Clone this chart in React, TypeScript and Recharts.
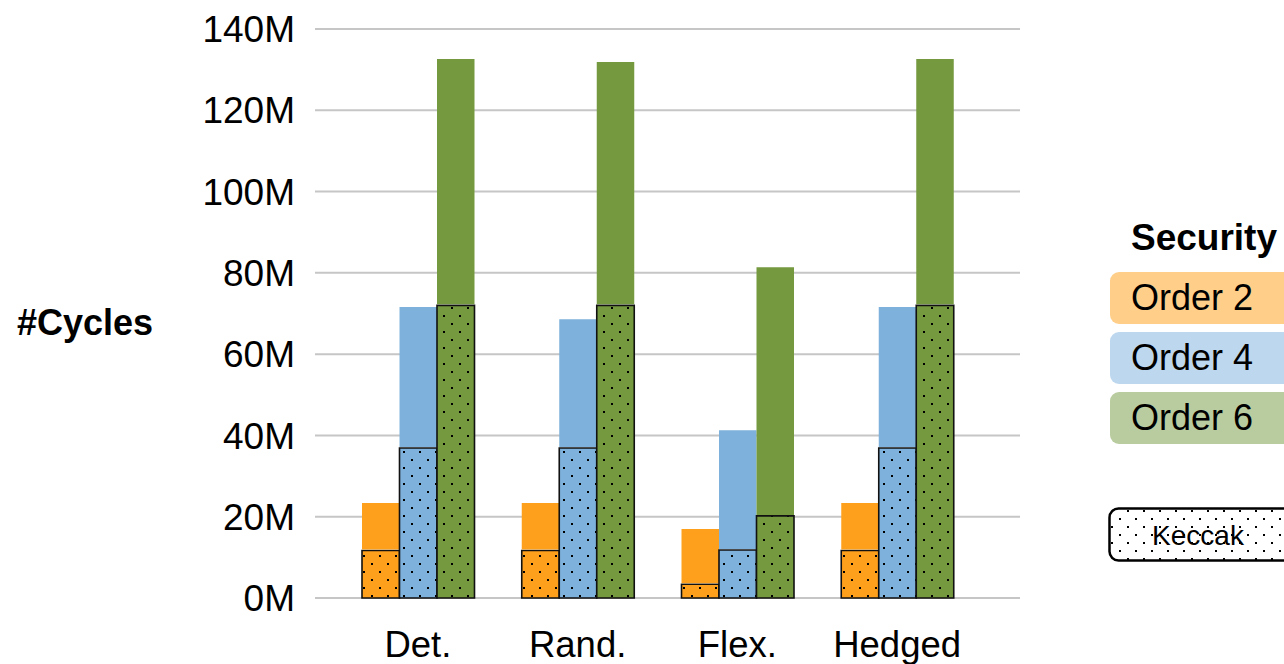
import { Bar, BarChart, CartesianGrid, Rectangle, XAxis, YAxis } from 'recharts';

// cycle counts in millions
const CATEGORIES = ['Det.', 'Rand.', 'Flex.', 'Hedged'];
const ORDER2_TOTAL = [23.4, 23.4, 17.0, 23.4];
const ORDER2_KECCAK = [11.7, 11.7, 3.4, 11.7];
const ORDER4_TOTAL = [71.6, 68.6, 41.3, 71.6];
const ORDER4_KECCAK = [36.9, 36.9, 11.8, 36.9];
const ORDER6_TOTAL = [132.6, 131.9, 81.4, 132.6];
const ORDER6_KECCAK = [72.0, 72.0, 20.2, 72.0];
const Y_TICKS = [0, 20, 40, 60, 80, 100, 120, 140];
const ORDER_NAMES = ['Order 2', 'Order 4', 'Order 6'];

const FONT = "'Liberation Sans', Arial, sans-serif";

const ORDERS = [
  { key: 'o2', name: ORDER_NAMES[0], total: ORDER2_TOTAL, keccak: ORDER2_KECCAK, color: '#FFA01C', light: '#FFCF8A' },
  { key: 'o4', name: ORDER_NAMES[1], total: ORDER4_TOTAL, keccak: ORDER4_KECCAK, color: '#7EB1DB', light: '#BDD7EE' },
  { key: 'o6', name: ORDER_NAMES[2], total: ORDER6_TOTAL, keccak: ORDER6_KECCAK, color: '#75993E', light: '#B9CC9F' },
];

const data = CATEGORIES.map((name, i) => {
  const row: Record<string, string | number> = { name };
  ORDERS.forEach((o) => {
    row[`${o.key}Keccak`] = o.keccak[i];
    row[`${o.key}Rest`] = +(o.total[i] - o.keccak[i]).toFixed(2);
  });
  return row;
});

// dotted fill used for the Keccak share of every bar
function DotPattern({ id, color }: { id: string; color: string }) {
  return (
    <pattern id={id} patternUnits='userSpaceOnUse' width={16} height={16}>
      <rect width={16} height={16} fill={color} />
      <rect x={3} y={3} width={2} height={2} fill='#000' />
      <rect x={11} y={11} width={2} height={2} fill='#000' />
    </pattern>
  );
}

// upper part stops 1px short so the Keccak outline stays visible
const RestShape = (props: any) => (
  <Rectangle {...props} height={Math.max(0, props.height - 1)} />
);

export default function App() {
  return (
    <div
      style={{
        position: 'absolute',
        left: 0,
        top: 0,
        width: 1284,
        height: 664,
        overflow: 'hidden',
        background: '#fff',
        fontFamily: FONT,
      }}>
      <BarChart
        width={1100}
        height={664}
        data={data}
        margin={{ top: 29, right: 80, bottom: 6, left: 0 }}
        barGap={0}
        barSize={37.5}>
        <defs>
          {ORDERS.map((o) => (
            <DotPattern key={o.key} id={`dots-${o.key}`} color={o.color} />
          ))}
        </defs>
        <CartesianGrid vertical={false} stroke='#C6C6C6' strokeWidth={2} />
        <XAxis
          dataKey='name'
          axisLine={false}
          tickLine={false}
          tickMargin={27}
          height={60}
          padding={{ left: 23, right: 43 }}
          tick={{ fontSize: 36.5, fill: '#000', fontFamily: FONT }}
        />
        <YAxis
          width={315}
          domain={[0, 140]}
          ticks={Y_TICKS}
          axisLine={false}
          tickLine={false}
          tickMargin={14}
          tickFormatter={(v) => `${v}M`}
          tick={{ fontSize: 37, fill: '#000', fontFamily: FONT }}
          label={{
            value: '#Cycles',
            position: 'insideLeft',
            offset: 17,
            dy: 9,
            fontSize: 36,
            fontWeight: 'bold',
            fill: '#000',
            fontFamily: FONT,
          }}
        />
        {ORDERS.flatMap((o) => [
          <Bar
            key={`${o.key}Keccak`}
            dataKey={`${o.key}Keccak`}
            stackId={o.key}
            fill={`url(#dots-${o.key})`}
            stroke='#111'
            strokeWidth={1.6}
            isAnimationActive={false}
          />,
          <Bar
            key={`${o.key}Rest`}
            dataKey={`${o.key}Rest`}
            stackId={o.key}
            fill={o.color}
            shape={RestShape}
            isAnimationActive={false}
          />,
        ])}
      </BarChart>

      {/* legend */}
      <div
        style={{
          position: 'absolute',
          left: 1131,
          top: 217,
          fontSize: 37,
          fontWeight: 'bold',
          lineHeight: '42px',
        }}>
        Security
      </div>
      {ORDERS.map((o, i) => (
        <div
          key={o.key}
          style={{
            position: 'absolute',
            left: 1110,
            top: 272 + i * 60,
            width: 190,
            height: 52,
            borderRadius: 9,
            background: o.light,
            boxSizing: 'border-box',
            paddingLeft: 21,
            fontSize: 36,
            lineHeight: '52px',
          }}>
          {o.name}
        </div>
      ))}
      <svg
        style={{ position: 'absolute', left: 1108, top: 507 }}
        width={190}
        height={56}>
        <DotPattern id='dots-legend' color='#fff' />
        <rect
          x={1.5}
          y={1.5}
          width={184}
          height={52}
          rx={9}
          fill='url(#dots-legend)'
          stroke='#000'
          strokeWidth={2.5}
        />
        <text
          x={90}
          y={28}
          dy='0.35em'
          textAnchor='middle'
          fontSize={28}
          fontFamily={FONT}>
          Keccak
        </text>
      </svg>
    </div>
  );
}
